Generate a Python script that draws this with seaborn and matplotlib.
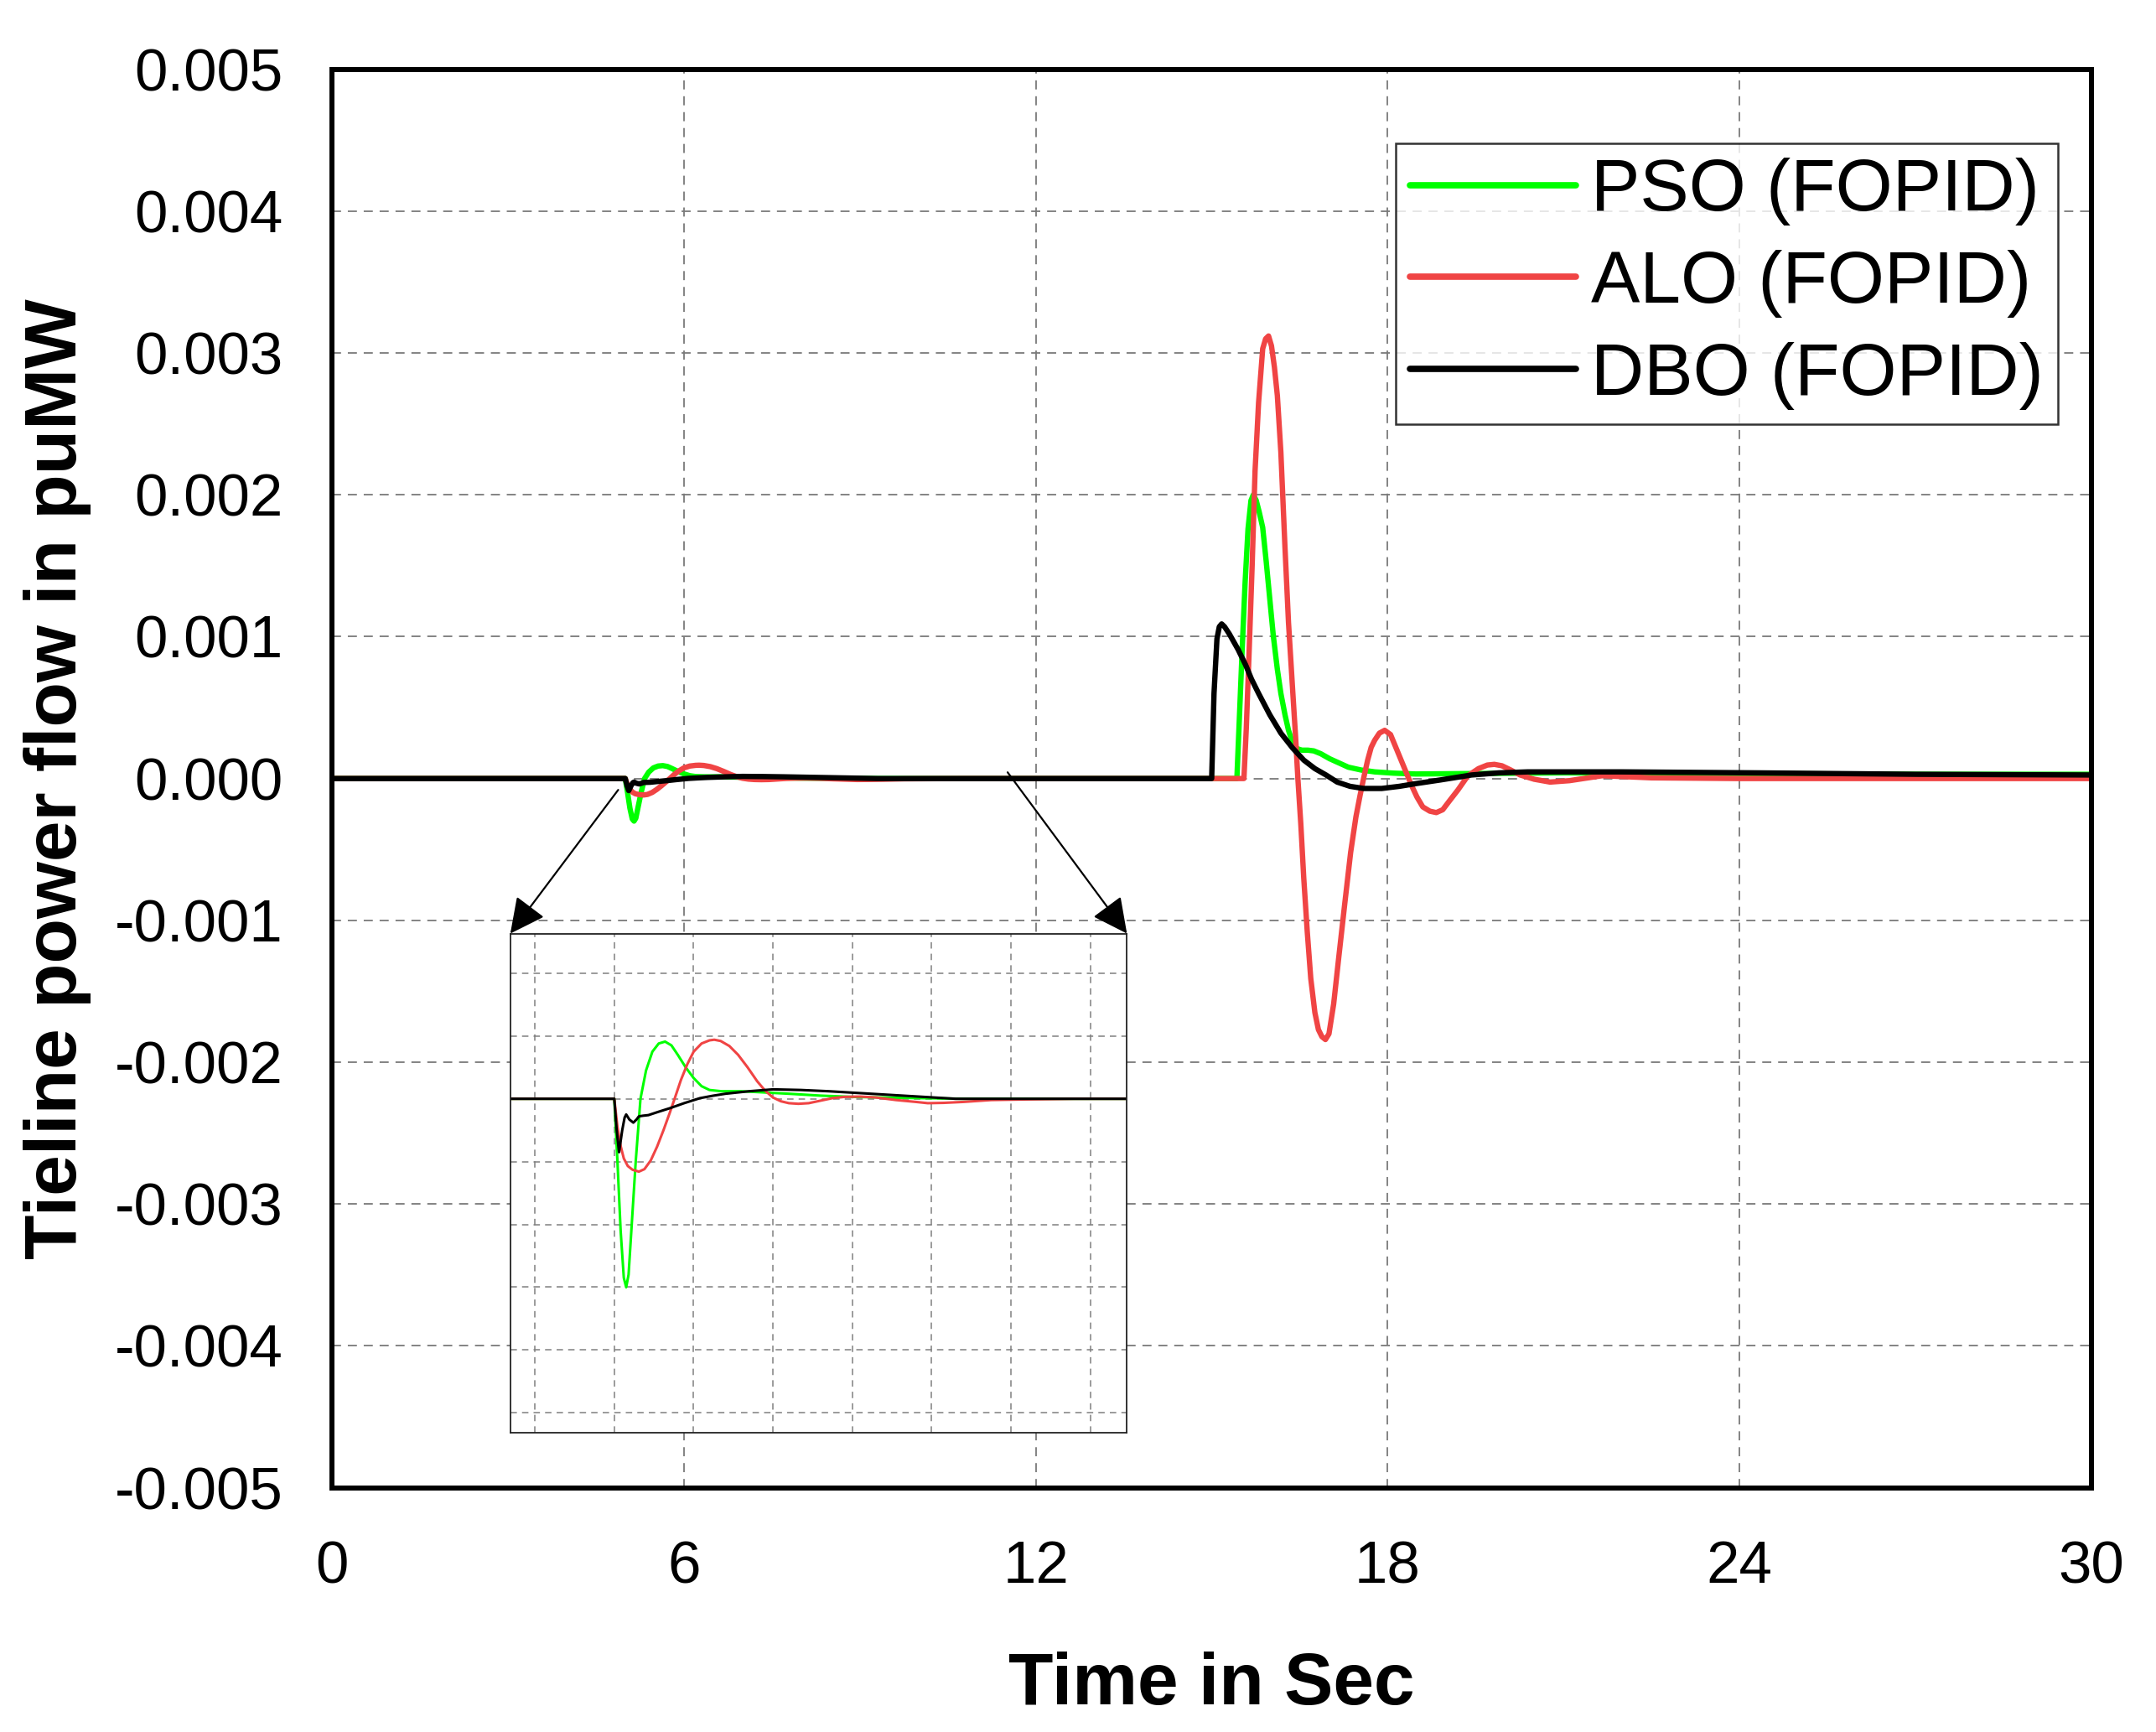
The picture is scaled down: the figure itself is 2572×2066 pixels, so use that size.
import numpy as np
import pandas as pd
import seaborn as sns
import matplotlib.pyplot as plt
from matplotlib.lines import Line2D

# ---- data (power in 1e-4 puMW) ----
pso_t = [0.00, 5.00, 5.04, 5.08, 5.12, 5.15, 5.18, 5.22, 5.27, 5.33, 5.40, 5.48, 5.56, 5.64, 5.72,
         5.80, 5.90, 6.00, 6.10, 6.20, 6.35, 6.60, 6.90, 7.20, 7.60, 8.00, 8.60, 9.40, 10.0,
         15.43, 15.47, 15.52, 15.57, 15.62, 15.67, 15.71, 15.76, 15.81, 15.87, 15.93, 15.99, 16.05,
         16.12, 16.18, 16.25, 16.31, 16.38, 16.46, 16.54, 16.64, 16.74, 16.86, 17.01, 17.17, 17.33,
         17.55, 17.78, 18.10, 18.48, 19.40, 21.0, 24.0, 27.0, 30.0]
pso_v = [0, 0, -1.0, -2.1, -2.85, -3.0, -2.8, -2.0, -1.0, 0.0, 0.45, 0.75, 0.88, 0.91, 0.85,
         0.70, 0.50, 0.33, 0.20, 0.14, 0.12, 0.12, 0.10, 0.08, 0.05, 0.03, 0.015, 0.0, 0.0,
         0, 4.0, 9.1, 13.8, 17.6, 19.6, 20.0, 19.6, 18.8, 17.7, 15.3, 12.7, 10.1,
         7.7, 6.0, 4.5, 3.4, 2.5, 2.1, 2.0, 2.0, 1.95, 1.75, 1.4, 1.1, 0.8,
         0.6, 0.47, 0.38, 0.32, 0.35, 0.4, 0.35, 0.3, 0.3]

alo_t = [0.00, 5.00, 5.04, 5.08, 5.12, 5.17, 5.23, 5.31, 5.38, 5.46, 5.54, 5.62, 5.70, 5.76, 5.84,
         5.92, 6.00, 6.10, 6.20, 6.26, 6.34, 6.45, 6.56, 6.68, 6.80, 6.90, 7.00, 7.10, 7.20, 7.32,
         7.45, 7.60, 7.75, 7.90, 8.10, 8.30, 8.55, 8.80, 8.95, 9.15, 9.40, 9.75, 10.2, 10.8,
         15.55, 15.59, 15.64, 15.69, 15.74, 15.80, 15.87, 15.92, 15.97, 16.02, 16.07, 16.12, 16.18,
         16.25, 16.31, 16.38, 16.43, 16.47, 16.52, 16.57, 16.63, 16.69, 16.76, 16.82, 16.88, 16.94,
         17.00, 17.08, 17.17, 17.27, 17.37, 17.46, 17.53, 17.59, 17.66, 17.72, 17.78, 17.86, 17.95,
         18.05, 18.16, 18.28, 18.41, 18.50, 18.60, 18.72, 18.83, 18.94, 19.05, 19.20, 19.37, 19.55,
         19.70, 19.82, 19.95, 20.10, 20.26, 20.50, 20.77, 21.10, 21.66, 22.5, 24.0, 27.0, 30.0]
alo_v = [0, 0, -0.45, -0.75, -0.95, -1.07, -1.13, -1.16, -1.12, -0.98, -0.76, -0.50, -0.22, 0.0, 0.30,
         0.55, 0.75, 0.88, 0.93, 0.94, 0.92, 0.84, 0.70, 0.50, 0.28, 0.13, 0.02, -0.04, -0.07, -0.08,
         -0.07, -0.03, 0.01, 0.03, 0.035, 0.02, -0.02, -0.05, -0.07, -0.065, -0.05, -0.02, -0.01, 0,
         0, 3.5, 9.1, 15.0, 21.7, 26.5, 30.3, 31.0, 31.2, 30.5, 29.0, 27.0, 23.0,
         16.3, 11.0, 6.3, 3.0, 0.0, -3.2, -7.0, -10.8, -14.1, -16.5, -17.7, -18.2, -18.4,
         -18.0, -15.9, -12.5, -8.8, -5.2, -2.7, -1.2, 0.0, 1.3, 2.2, 2.7, 3.2, 3.4,
         3.1, 2.0, 0.8, -0.5, -1.3, -2.0, -2.3, -2.4, -2.2, -1.6, -0.8, 0.2, 0.7,
         0.95, 1.0, 0.9, 0.6, 0.25, -0.05, -0.25, -0.15, 0.2, 0.05, 0.0, 0.0, 0.0]

dbo_t = [0.00, 5.00, 5.03, 5.06, 5.10, 5.13, 5.15, 5.19, 5.24, 5.28, 5.31, 5.36, 5.43, 5.55, 5.70,
         5.88, 6.08, 6.25, 6.40, 6.70, 7.00, 7.35, 7.70, 8.10, 8.50, 8.90, 9.30, 10.0,
         15.00, 15.04, 15.09, 15.13, 15.17, 15.22, 15.30, 15.45, 15.58, 15.68, 15.80, 15.99, 16.18,
         16.38, 16.57, 16.76, 16.95, 17.14, 17.36, 17.59, 17.90, 18.20, 18.48, 18.90, 19.43, 19.90,
         20.39, 21.98, 24.3, 27.0, 30.0]
dbo_v = [0, 0, -0.5, -0.85, -0.5, -0.3, -0.25, -0.33, -0.38, -0.33, -0.28, -0.27, -0.26, -0.21, -0.15,
         -0.07, 0.01, 0.05, 0.08, 0.12, 0.15, 0.14, 0.12, 0.09, 0.06, 0.03, 0.0, 0,
         0, 6.0, 9.85, 10.7, 10.9, 10.7, 10.2, 9.1, 8.0, 7.0, 6.0, 4.5, 3.2,
         2.15, 1.3, 0.7, 0.25, -0.25, -0.55, -0.7, -0.7, -0.55, -0.36, -0.1, 0.25, 0.4,
         0.47, 0.47, 0.4, 0.3, 0.25]

methods = ['PSO (FOPID)', 'ALO (FOPID)', 'DBO (FOPID)']
colors = ['#00ff00', '#f04444', '#000000']
x_ticks = [0, 6, 12, 18, 24, 30]
y_ticks = [-0.005, -0.004, -0.003, -0.002, -0.001, 0.0, 0.001, 0.002, 0.003, 0.004, 0.005]

df = pd.concat([
    pd.DataFrame({'time': pso_t, 'power': np.array(pso_v) * 1e-4, 'method': methods[0]}),
    pd.DataFrame({'time': alo_t, 'power': np.array(alo_v) * 1e-4, 'method': methods[1]}),
    pd.DataFrame({'time': dbo_t, 'power': np.array(dbo_v) * 1e-4, 'method': methods[2]}),
], ignore_index=True)
palette = dict(zip(methods, colors))

sns.set_style('white')
plt.rcParams['font.family'] = ['Liberation Sans', 'DejaVu Sans']
plt.rcParams['axes.unicode_minus'] = False
for k in ['text.color', 'axes.labelcolor', 'xtick.color', 'ytick.color']:
    plt.rcParams[k] = 'black'

fig = plt.figure(figsize=(25.72, 20.66), dpi=100)
ax = fig.add_axes([0.154, 0.141, 0.816, 0.819])

sns.lineplot(data=df, x='time', y='power', hue='method', hue_order=methods, palette=palette,
             estimator=None, sort=False, linewidth=4.6, legend=False, ax=ax)

ax.set_xlim(0, 30)
ax.set_ylim(-0.005, 0.005)
ax.set_xticks(x_ticks)
ax.set_xticklabels([str(v) for v in x_ticks])
ax.set_xticks(np.arange(3, 30, 6), minor=True)
ax.set_yticks(y_ticks)
ax.set_yticklabels([f"{round(v, 3) + 0:.3f}" for v in y_ticks])
ax.set_yticks(np.arange(-0.0045, 0.005, 0.001), minor=True)
ax.tick_params(which='major', direction='out', length=23, width=4.3, labelsize=51)
ax.tick_params(which='minor', direction='out', length=11, width=4.3)
ax.tick_params(axis='x', pad=22)
ax.tick_params(axis='y', pad=19)
ax.tick_params(top=False, right=False)
for s in ax.spines.values():
    s.set_linewidth(4.3)
    s.set_color('black')
ax.grid(True, which='major', color='#7a7a7a', lw=1.3, linestyle=(0, (6, 4.5)))

ax.set_xlabel('Time in Sec', fontsize=63, fontweight='bold', labelpad=48)
ax.set_ylabel('Tieline power flow in puMW', fontsize=63, fontweight='bold', labelpad=20)

handles = [Line2D([0], [0], color=c, lw=5.5) for c in colors]
leg = ax.legend(handles, methods, loc='upper right', bbox_to_anchor=(0.981, 0.948),
                borderaxespad=0, fontsize=63, frameon=True, fancybox=False,
                handlelength=2.26, handletextpad=0.2, labelspacing=0.33, borderpad=0.2)
leg.get_frame().set_edgecolor('black')
leg.get_frame().set_linewidth(1.8)

# zoomed inset of the first disturbance
axins = fig.add_axes([0.2367, 0.173, 0.286, 0.288])
axins.set_facecolor('white')
sns.lineplot(data=df, x='time', y='power', hue='method', hue_order=methods, palette=palette,
             estimator=None, sort=False, linewidth=2.2, legend=False, ax=axins)
axins.set_xlim(3.69, 11.46)
axins.set_ylim(-0.000531, 0.000263)
axins.set_xticks(np.arange(4, 12, 1))
axins.set_yticks(np.arange(-0.0005, 0.00025, 0.0001))
axins.tick_params(length=0, labelbottom=False, labelleft=False)
axins.set_xlabel('')
axins.set_ylabel('')
axins.grid(True, color='#808080', lw=1.1, linestyle=(0, (5, 4)))
for s in axins.spines.values():
    s.set_linewidth(1.3)
    s.set_color('#222222')

arrow = dict(arrowstyle='-|>', color='black', lw=1.6, mutation_scale=65, shrinkA=0, shrinkB=0)
ax.annotate('', xy=(0, 1), xycoords=axins.transAxes, xytext=(4.88, -0.00008),
            textcoords='data', arrowprops=arrow)
ax.annotate('', xy=(1, 1), xycoords=axins.transAxes, xytext=(11.52, 0.000044),
            textcoords='data', arrowprops=arrow)

fig.savefig('out.png', dpi=100)
